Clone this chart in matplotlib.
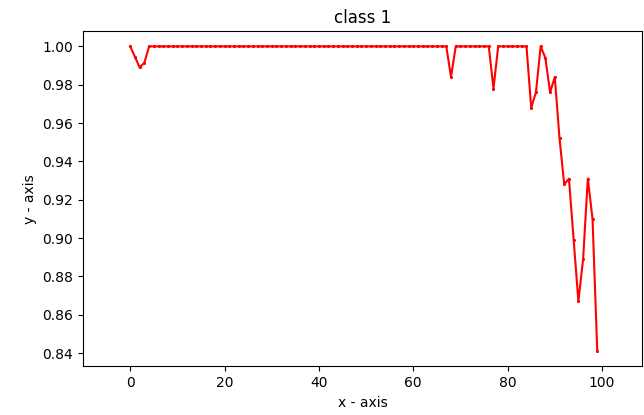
import numpy as np
import matplotlib
matplotlib.use('Agg')
import matplotlib.pyplot as plt

# per-epoch values (x = 0..99)
x = list(range(100))
y = [1.0, 0.9945, 0.989, 0.9915] + [1.0] * 64 + [0.984] + [1.0] * 8 + [0.978] + [1.0] * 7 + \
    [0.968, 0.976, 1.0, 0.994, 0.976, 0.984, 0.952, 0.928, 0.931, 0.899,
     0.867, 0.889, 0.931, 0.910, 0.841]

fig = plt.figure(figsize=(6.44, 4.15), dpi=100)
ax = fig.add_axes([0.129, 0.117, 0.868, 0.808])

ax.plot(x, y, color='red', marker='.', markersize=2.5, linewidth=1.5)
ax.set_xlim(-10, 108.5)
ax.set_xticks([0, 20, 40, 60, 80, 100])
ax.set_yticks(np.arange(0.84, 1.001, 0.02))
ax.set_title("class 1")
ax.set_xlabel("x - axis")
ax.set_ylabel("y - axis")

fig.savefig('out.png', dpi=100)
